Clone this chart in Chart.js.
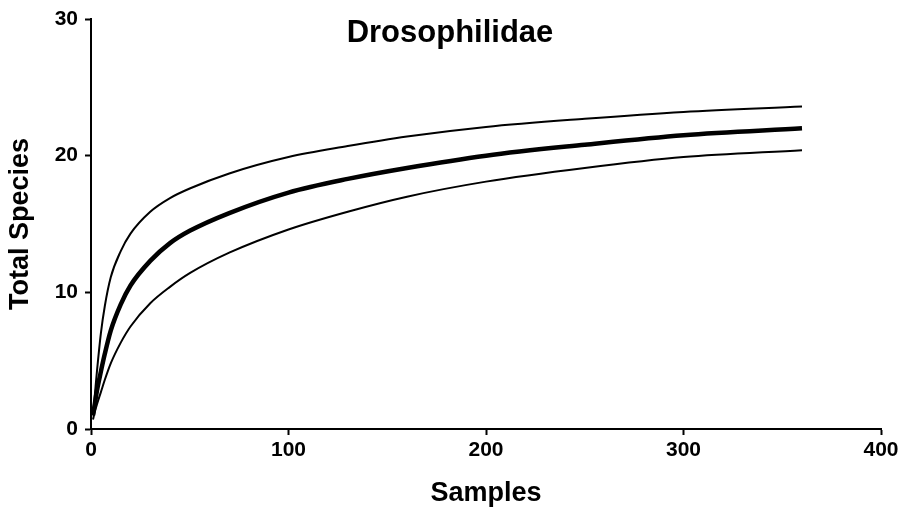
<!DOCTYPE html>
<html lang="en">
<head>
    <meta charset="UTF-8">
    <title>Drosophilidae</title>
    <script src="https://cdn.jsdelivr.net/npm/chart.js"></script>
    <style>
        html, body { margin: 0; padding: 0; background: #fff; overflow: hidden; }
    </style>
</head>
<body>
    <canvas id="curva" width="908" height="518"></canvas>

    <script>
        // samples (x) and species values
        const samples = [1, 2, 3, 5, 7, 10, 15, 20, 30, 40, 50, 70, 100, 130, 160, 200, 250, 300, 360];
        const upper   = [1.0, 2.6, 4.2, 7.0, 9.0, 11.1, 13.0, 14.3, 15.9, 16.9, 17.6, 18.7, 19.9, 20.7, 21.4, 22.1, 22.7, 23.2, 23.6];
        const mean    = [1.0, 1.9, 2.8, 4.2, 5.5, 7.2, 9.1, 10.5, 12.3, 13.6, 14.5, 15.8, 17.3, 18.3, 19.1, 20.0, 20.8, 21.5, 22.0];
        const lower   = [0.7, 1.3, 1.8, 2.7, 3.6, 4.8, 6.3, 7.5, 9.2, 10.4, 11.4, 12.9, 14.6, 15.9, 17.0, 18.1, 19.1, 19.9, 20.4];
        const xTicks = [0, 100, 200, 300, 400];
        const yTicks = [0, 10, 20, 30];

        const toPoints = arr => arr.map((v, i) => ({ x: samples[i], y: v }));

        const fuente = 'Liberation Sans, Arial, sans-serif';

        // title sits inside the plot area, like the original
        const tituloPlugin = {
            id: 'tituloInterno',
            afterDraw(chart) {
                const c = chart.ctx;
                c.save();
                c.font = 'bold 31px ' + fuente;
                c.fillStyle = '#000';
                c.textAlign = 'center';
                c.textBaseline = 'middle';
                c.fillText('Drosophilidae', 450, 33);
                c.restore();
            }
        };

        const linea = (data, w) => ({
            data: toPoints(data),
            borderColor: '#000',
            borderWidth: w,
            pointRadius: 0,
            fill: false,
            cubicInterpolationMode: 'monotone'
        });

        new Chart(document.getElementById('curva'), {
            type: 'line',
            data: {
                datasets: [linea(upper, 2), linea(lower, 2), linea(mean, 4.5)]
            },
            plugins: [tituloPlugin],
            options: {
                responsive: false,
                animation: false,
                maintainAspectRatio: false,
                layout: { padding: { top: 19, right: 27, left: 0, bottom: 0 } },
                plugins: {
                    legend: { display: false },
                    title: { display: false },
                    tooltip: { enabled: false }
                },
                scales: {
                    x: {
                        type: 'linear',
                        min: 0,
                        max: 400,
                        afterFit: s => { s.height = 89; s.paddingLeft = 0; s.paddingRight = 0; },
                        afterBuildTicks: s => { s.ticks = xTicks.map(v => ({ value: v })); },
                        border: { color: '#000', width: 2 },
                        grid: { drawOnChartArea: false, drawTicks: true, tickLength: 6, tickWidth: 2, tickColor: '#000' },
                        ticks: { color: '#000', padding: 3, maxRotation: 0, font: { family: fuente, size: 21, weight: 'bold' } },
                        title: {
                            display: true,
                            text: 'Samples',
                            color: '#000',
                            padding: { top: 0, bottom: 8 },
                            font: { family: fuente, size: 27, weight: 'bold' }
                        }
                    },
                    y: {
                        min: 0,
                        max: 30,
                        afterFit: s => { s.width = 91; s.paddingTop = 0; s.paddingBottom = 0; },
                        afterBuildTicks: s => { s.ticks = yTicks.map(v => ({ value: v })); },
                        border: { color: '#000', width: 2 },
                        grid: { drawOnChartArea: false, drawTicks: true, tickLength: 6, tickWidth: 2, tickColor: '#000' },
                        ticks: { color: '#000', padding: 7, font: { family: fuente, size: 21, weight: 'bold' } },
                        title: {
                            display: true,
                            text: 'Total Species',
                            color: '#000',
                            padding: { top: 4, bottom: 0 },
                            font: { family: fuente, size: 27, weight: 'bold' }
                        }
                    }
                }
            }
        });
    </script>
</body>
</html>
